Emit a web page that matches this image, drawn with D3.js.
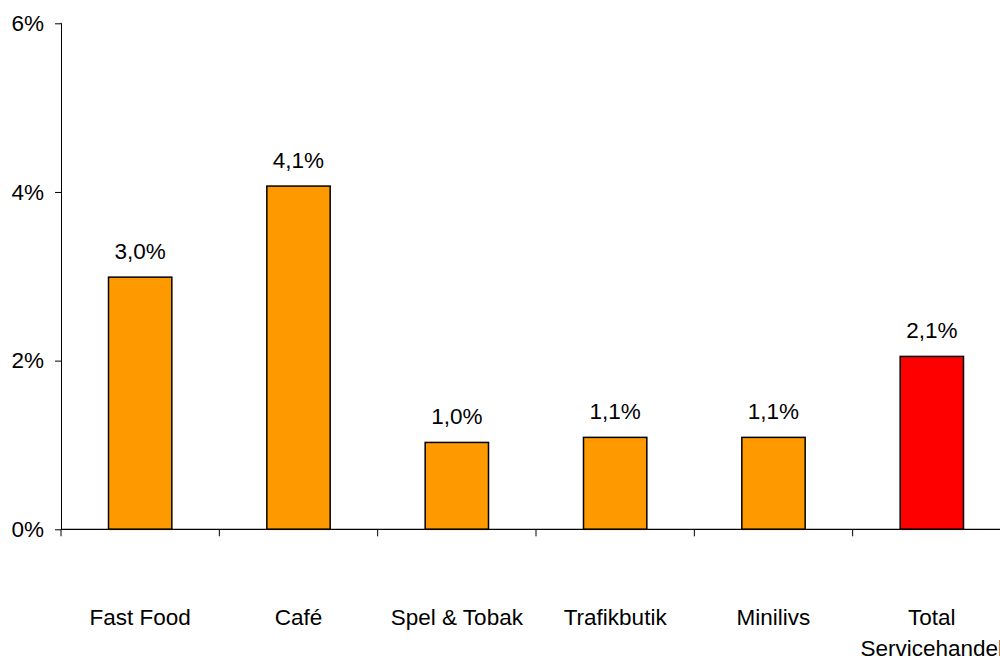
<!DOCTYPE html>
<html><head><meta charset="utf-8">
<script src="https://cdn.jsdelivr.net/npm/d3@7"></script>
<style>body{margin:0;background:#fff}svg{display:block}text{font-family:"Liberation Sans",Arial,sans-serif;fill:#000}</style>
</head><body>
<svg id="c" width="1000" height="656"></svg>
<script>
const categories = ["Fast Food", "Café", "Spel & Tobak", "Trafikbutik", "Minilivs", "Total Servicehandel"];
const values = [2.99, 4.07, 1.03, 1.09, 1.09, 2.05];
const valueLabels = ["3,0%", "4,1%", "1,0%", "1,1%", "1,1%", "2,1%"];
const yTicks = [0, 2, 4, 6];
const barColors = ["#FF9900", "#FF9900", "#FF9900", "#FF9900", "#FF9900", "#FF0000"];

const FS = 22.5;
const svg = d3.select("#c");
const x = d3.scaleBand().domain(categories).range([61, 1011]).paddingInner(0.6).paddingOuter(0.3);
const y = d3.scaleLinear().domain([0, 6]).range([529.3, 23.3]);

// y axis
const ya = svg.append("g").attr("transform", "translate(61,0)")
  .call(d3.axisLeft(y).tickValues(yTicks).tickFormat(d => d + "%").tickSize(6).tickPadding(11));
ya.select(".domain").attr("stroke", "#000").attr("d", "M-0.5," + y(6) + "H0.5V" + y(0));
ya.selectAll(".tick line").attr("stroke", "#000");
ya.selectAll(".tick text").attr("font-size", FS).attr("font-family", "Liberation Sans, Arial, sans-serif").attr("fill", "#000");

// bars
svg.selectAll("rect.bar").data(categories).enter().append("rect")
  .attr("x", d => x(d)).attr("width", x.bandwidth())
  .attr("y", (d, i) => y(values[i])).attr("height", (d, i) => y(0) - y(values[i]))
  .attr("fill", (d, i) => barColors[i]).attr("stroke", "#000").attr("stroke-width", 1.5);

// x axis line and ticks between categories
const step = x.step();
const x0 = 61;
svg.append("line").attr("x1", x0).attr("x2", 1000).attr("y1", y(0)).attr("y2", y(0)).attr("stroke", "#000").attr("stroke-width", 1.2);
svg.selectAll("line.xt").data(d3.range(0, categories.length)).enter().append("line")
  .attr("x1", i => x0 + i * step).attr("x2", i => x0 + i * step)
  .attr("y1", y(0)).attr("y2", y(0) + 7).attr("stroke", "#000").attr("stroke-width", 1);

// value labels
svg.selectAll("text.val").data(categories).enter().append("text")
  .attr("x", d => x(d) + x.bandwidth() / 2).attr("y", (d, i) => y(values[i]) - 18)
  .attr("text-anchor", "middle").attr("font-size", FS).text((d, i) => valueLabels[i]);

// category labels
svg.selectAll("text.cat").data(categories).enter().append("text")
  .attr("x", d => x(d) + x.bandwidth() / 2).attr("y", 625)
  .attr("text-anchor", "middle").attr("font-size", FS)
  .each(function(d) {
    const t = d3.select(this);
    if (d === "Total Servicehandel") {
      t.append("tspan").attr("x", x(d) + x.bandwidth() / 2).attr("dy", 0).text("Total");
      t.append("tspan").attr("x", x(d) + x.bandwidth() / 2).attr("dy", 31).text("Servicehandel");
    } else t.text(d);
  });
</script>
</body></html>
